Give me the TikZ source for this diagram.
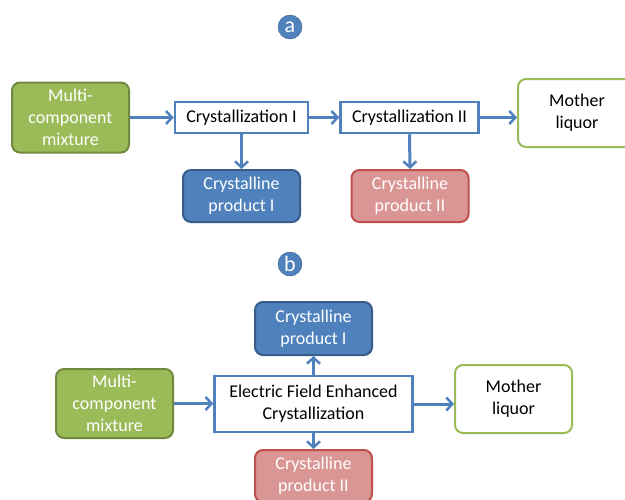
\documentclass[tikz,border=0pt]{standalone}
\usepackage{fontspec}
\setmainfont{Carlito}
\usetikzlibrary{arrows.meta}
\definecolor{accblue}{HTML}{4F81BD}
\definecolor{darkblue}{HTML}{385D8A}
\definecolor{accgreen}{HTML}{9BBB59}
\definecolor{darkgreen}{HTML}{71893F}
\definecolor{accred}{HTML}{D99694}
\definecolor{darkred}{HTML}{C0504D}
\begin{document}
\begin{tikzpicture}[x=1pt, y=-1pt,
  every node/.style={font=\fontsize{18}{22}\selectfont, align=center},
  main/.style={rectangle, rounded corners=8, line width=2pt, minimum width=117pt},
  feed/.style={main, draw=darkgreen, fill=accgreen, text=white, minimum height=70pt},
  prodone/.style={main, draw=darkblue, fill=accblue, text=white, minimum height=52pt},
  prodtwo/.style={main, draw=darkred, fill=accred, text=white, minimum height=52pt},
  liquor/.style={main, draw=accgreen, fill=white, minimum height=68pt},
  unit/.style={rectangle, draw=accblue, fill=white, line width=2.5pt, minimum height=31pt, inner sep=2pt},
  tag/.style={circle, draw=darkblue, fill=accblue, text=white, minimum size=24pt, inner sep=0pt, font=\fontsize{22}{22}\selectfont},
  n/.style={-{Straight Barb[length=6pt, width=13pt, line width=2.5pt]}, draw=accblue, line width=3pt}]
  \clip (0,0) rectangle (625,499);
  \fill[white] (0,0) rectangle (625,499);
  % nodes (a)
  \node[tag] (tagA) at (290,27) {a};
  \node[feed] (mixA) at (70.5,117.5) {Multi-\\component\\mixture};
  \node[unit, minimum width=133pt] (cryA1) at (241.5,117.5) {Crystallization I};
  \node[unit, minimum width=138pt] (cryA2) at (409.5,117.5) {Crystallization II};
  \node[liquor, minimum width=118pt] (motherA) at (577,113) {Mother\\liquor};
  \node[prodone] (prodA1) at (241.5,196) {Crystalline\\product I};
  \node[prodtwo] (prodA2) at (410,196) {Crystalline\\product II};
  % nodes (b)
  \node[tag] (tagB) at (290,264) {b};
  \node[prodone, minimum height=53pt] (prodB1) at (313.5,328.5) {Crystalline\\product I};
  \node[feed, minimum height=69pt] (mixB) at (114.5,403.5) {Multi-\\component\\mixture};
  \node[unit, minimum width=198pt, minimum height=56pt] (elec) at (313.5,404) {Electric Field Enhanced\\Crystallization};
  \node[liquor] (motherB) at (513.5,399) {Mother\\liquor};
  \node[prodtwo] (prodB2) at (313.5,476) {Crystalline\\product II};
  % edges (a)
  \draw [n] (mixA.east) -- (cryA1.west);
  \draw [n] (cryA1.east) -- (cryA2.west);
  \draw [n] (cryA2.east) -- (cryA2.east -| motherA.west);
  \draw [n] (cryA1.south) -- (prodA1.north);
  \draw [n] (cryA2.south) -- (prodA2.north);
  % edges (b)
  \draw [n] (mixB.east) -- (mixB.east -| elec.west);
  \draw [n] (elec.east) -- (elec.east -| motherB.west);
  \draw [n] (elec.north) -- (prodB1.south);
  \draw [n] (elec.south) -- (prodB2.north);
\end{tikzpicture}
\end{document}
